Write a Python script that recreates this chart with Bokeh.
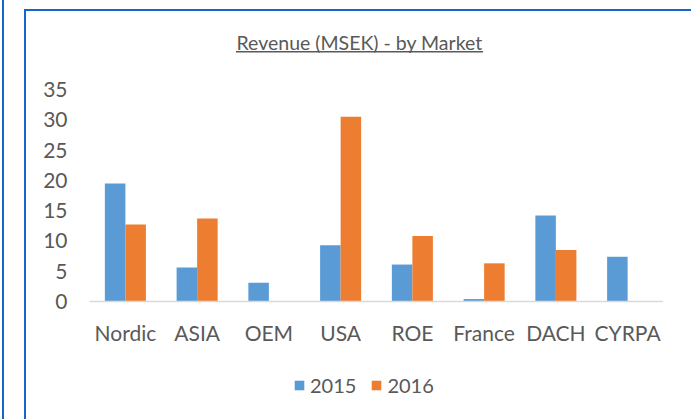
from bokeh.plotting import figure
from bokeh.models import (FactorRange, Range1d, FixedTicker, Legend, LegendItem,
                          ColumnDataSource, Label)
from bokeh.transform import dodge
from bokeh.embed import file_html
from bokeh.resources import INLINE

markets = ["Nordic", "ASIA", "OEM", "USA", "ROE", "France", "DACH", "CYRPA"]
rev_2015 = [19.5, 5.6, 3.1, 9.3, 6.1, 0.4, 14.2, 7.4]
rev_2016 = [12.7, 13.7, 0.0, 30.5, 10.8, 6.3, 8.5, 0.0]
y_ticks = [0, 5, 10, 15, 20, 25, 30, 35]
title_text = "Revenue (MSEK) - by Market"

FONT = "Lato"
GRAY = "#595959"
BLUE = "#5B9BD5"
ORANGE = "#ED7D31"
FRAME_BLUE = "#1266CC"

# layout (pixels): plot area from y=89 (value 35) to y=301 (value 0), page 419 tall
H = 419
Y_TOP_PX, Y_ZERO_PX = 89, 301
ppu = (Y_ZERO_PX - Y_TOP_PX) / 35.0
y_lo = -(H - Y_ZERO_PX) / ppu
y_hi = Y_ZERO_PX / ppu

src = ColumnDataSource(dict(m=markets, a=rev_2015, b=rev_2016))

p = figure(x_range=FactorRange(factors=markets, range_padding=0),
           y_range=Range1d(y_lo, y_hi),
           frame_width=574, frame_height=H,
           min_border_left=89, min_border_right=28,
           min_border_top=0, min_border_bottom=0,
           output_backend="svg", toolbar_location=None)
p.outline_line_color = None
p.border_fill_color = None
p.background_fill_color = None
p.xgrid.visible = False
p.ygrid.visible = False

g = f"linear-gradient({FRAME_BLUE},{FRAME_BLUE})"
u = f"linear-gradient({GRAY},{GRAY})"
p.styles = {
    "background-image": f"{g},{g},{g},{u}",
    "background-size": "2px 100%, 2px 100%, 100% 2px, 247px 1.5px",
    "background-position": "2px 0px, 24px 9px, 24px 9px, 236px 51px",
    "background-repeat": "no-repeat",
    "background-color": "white",
}

r1 = p.vbar(x=dodge("m", -0.143, range=p.x_range), top="a", width=0.286,
            source=src, color=BLUE, line_color=None)
r2 = p.vbar(x=dodge("m", 0.143, range=p.x_range), top="b", width=0.286,
            source=src, color=ORANGE, line_color=None)

p.yaxis.ticker = FixedTicker(ticks=y_ticks)
p.yaxis.axis_line_color = None
p.yaxis.major_tick_line_color = None
p.yaxis.minor_tick_line_color = None
p.yaxis.major_tick_out = 0
p.yaxis.major_label_standoff = 22
p.yaxis.major_label_text_font = FONT
p.yaxis.major_label_text_font_size = "21px"
p.yaxis.major_label_text_color = GRAY

p.xaxis.fixed_location = 0
p.xaxis.axis_line_color = "#D9D9D9"
p.xaxis.axis_line_width = 1.5
p.xaxis.major_tick_line_color = None
p.xaxis.minor_tick_line_color = None
p.xaxis.major_tick_out = 0
p.xaxis.major_label_standoff = 18
p.xaxis.major_label_text_font = FONT
p.xaxis.major_label_text_font_size = "21px"
p.xaxis.major_label_text_color = GRAY

# title inside the (extended) plot area
p.add_layout(Label(x=147, y=H - 42, x_units="screen", y_units="screen",
                   text=title_text, text_align="left", text_baseline="middle",
                   text_font=FONT, text_font_size="19.5px", text_color=GRAY))

legend = Legend(items=[LegendItem(label="2015", renderers=[r1]),
                       LegendItem(label="2016", renderers=[r2])],
                orientation="horizontal", location=(204, 22),
                glyph_width=12, glyph_height=12, label_standoff=5, spacing=14,
                padding=0, margin=0, border_line_color=None,
                background_fill_alpha=0,
                label_text_font=FONT, label_text_font_size="20px",
                label_text_color=GRAY)
p.add_layout(legend, "center")

open("out.html", "w").write(file_html(p, INLINE))
